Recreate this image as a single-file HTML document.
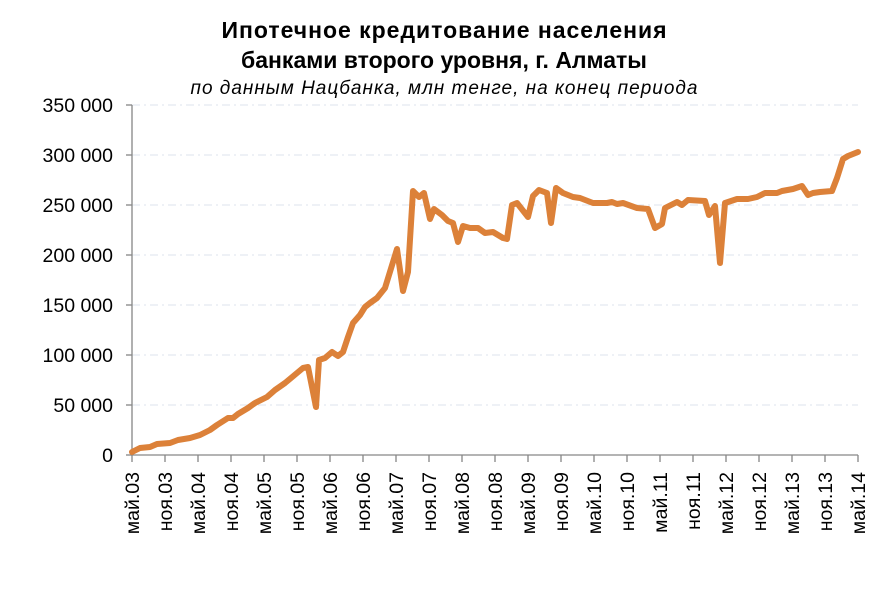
<!DOCTYPE html>
<html><head><meta charset="utf-8"><style>body{margin:0;background:#fff}svg{display:block}</style></head><body>
<svg width="888" height="593" xmlns="http://www.w3.org/2000/svg" font-family="Liberation Sans, sans-serif">
<rect width="888" height="593" fill="#fff"/>
<text x="444" y="38" font-size="23" font-weight="bold" text-anchor="middle" textLength="445">Ипотечное кредитование населения</text>
<text x="444" y="68" font-size="23" font-weight="bold" text-anchor="middle">банками второго уровня, г. Алматы</text>
<text x="444" y="94" font-size="19" font-style="italic" text-anchor="middle" textLength="507">по данным Нацбанка, млн тенге, на конец периода</text>
<g stroke="#dde3ec" stroke-width="1" stroke-dasharray="8,4,2,4">
<line x1="132" x2="858" y1="105" y2="105"/><line x1="132" x2="858" y1="155" y2="155"/><line x1="132" x2="858" y1="205" y2="205"/><line x1="132" x2="858" y1="255" y2="255"/><line x1="132" x2="858" y1="305" y2="305"/><line x1="132" x2="858" y1="355" y2="355"/><line x1="132" x2="858" y1="405" y2="405"/>
</g>
<g font-size="19.5" text-anchor="end" fill="#000">
<text x="113" y="112">350 000</text><text x="113" y="162">300 000</text><text x="113" y="212">250 000</text><text x="113" y="262">200 000</text><text x="113" y="312">150 000</text><text x="113" y="362">100 000</text><text x="113" y="412">50 000</text><text x="113" y="462">0</text>
</g>
<g stroke="#868686" stroke-width="1.3">
<line x1="132" y1="105" x2="132" y2="455"/><line x1="126" y1="105" x2="132" y2="105"/><line x1="126" y1="155" x2="132" y2="155"/><line x1="126" y1="205" x2="132" y2="205"/><line x1="126" y1="255" x2="132" y2="255"/><line x1="126" y1="305" x2="132" y2="305"/><line x1="126" y1="355" x2="132" y2="355"/><line x1="126" y1="405" x2="132" y2="405"/><line x1="126" y1="455" x2="132" y2="455"/>
<line x1="132" y1="455" x2="858" y2="455"/>
<path d="M132 455v7M165 455v7M198 455v7M231 455v7M264 455v7M297 455v7M330 455v7M363 455v7M396 455v7M429 455v7M462 455v7M495 455v7M528 455v7M561 455v7M594 455v7M627 455v7M660 455v7M693 455v7M726 455v7M759 455v7M792 455v7M825 455v7M858 455v7"/>
</g>
<g font-size="19.5" text-anchor="end">
<text transform="translate(139,472) rotate(-90)">май.03</text>
<text transform="translate(172,472) rotate(-90)">ноя.03</text>
<text transform="translate(205,472) rotate(-90)">май.04</text>
<text transform="translate(238,472) rotate(-90)">ноя.04</text>
<text transform="translate(271,472) rotate(-90)">май.05</text>
<text transform="translate(304,472) rotate(-90)">ноя.05</text>
<text transform="translate(337,472) rotate(-90)">май.06</text>
<text transform="translate(370,472) rotate(-90)">ноя.06</text>
<text transform="translate(403,472) rotate(-90)">май.07</text>
<text transform="translate(436,472) rotate(-90)">ноя.07</text>
<text transform="translate(469,472) rotate(-90)">май.08</text>
<text transform="translate(502,472) rotate(-90)">ноя.08</text>
<text transform="translate(535,472) rotate(-90)">май.09</text>
<text transform="translate(568,472) rotate(-90)">ноя.09</text>
<text transform="translate(601,472) rotate(-90)">май.10</text>
<text transform="translate(634,472) rotate(-90)">ноя.10</text>
<text transform="translate(667,472) rotate(-90)">май.11</text>
<text transform="translate(700,472) rotate(-90)">ноя.11</text>
<text transform="translate(733,472) rotate(-90)">май.12</text>
<text transform="translate(766,472) rotate(-90)">ноя.12</text>
<text transform="translate(799,472) rotate(-90)">май.13</text>
<text transform="translate(832,472) rotate(-90)">ноя.13</text>
<text transform="translate(865,472) rotate(-90)">май.14</text>
</g>
<polyline fill="none" stroke="#dc8139" stroke-width="6" stroke-linejoin="round" stroke-linecap="round" points="132,452 140,448 150,447 157,444 170,443 178,440 190,438 200,435 210,430 217,425 228,418 233,418 238,414 248,408 255,403 267,397 275,390 285,383 297,373 303,368 308,367 316,407 319,360 325,358 332,352 338,356 343,352 348,337 353,323 360,315 365,307 370,303 377,298 385,288 397,249 403,291 408,272 413,191 419,197 424,193 430,219 434,209 442,215 448,221 453,223 458,242 463,226 470,228 478,228 485,233 493,232 503,238 507,239 512,205 517,203 528,217 533,196 539,190 547,193 551,223 556,188 563,193 573,197 580,198 593,203 607,203 612,202 617,204 623,203 637,208 648,209 655,228 662,224 665,208 677,202 682,205 688,200 705,201 709,215 715,206 720,263 725,203 737,199 748,199 757,197 765,193 777,193 782,191 793,189 802,186 808,195 813,193 820,192 832,191 837,178 843,159 848,156 858,152"/>
</svg>
</body></html>
